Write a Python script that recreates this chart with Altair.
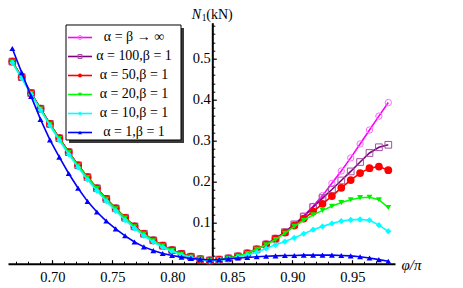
import altair as alt
import pandas as pd

# ---------------- data ----------------
phi = [0.66667, 0.67450, 0.68233, 0.69017, 0.69800, 0.70583, 0.71367, 0.72150,
       0.72933, 0.73717, 0.74500, 0.75283, 0.76067, 0.76850, 0.77633, 0.78417,
       0.79200, 0.79983, 0.80767, 0.81550, 0.82333, 0.83117, 0.83900, 0.84683,
       0.85467, 0.86250, 0.87033, 0.87817, 0.88600, 0.89383, 0.90167, 0.90950,
       0.91733, 0.92517, 0.93300, 0.94083, 0.94867, 0.95650, 0.96433, 0.97217,
       0.98000]

n_inf = [0.493, 0.455, 0.416, 0.378, 0.341, 0.306, 0.272, 0.240, 0.211, 0.184,
         0.158, 0.135, 0.112, 0.091, 0.073, 0.057, 0.044, 0.033, 0.024, 0.017,
         0.011, 0.008, 0.010, 0.013, 0.018, 0.025, 0.035, 0.047, 0.061, 0.077,
         0.096, 0.116, 0.140, 0.166, 0.196, 0.226, 0.258, 0.292, 0.326, 0.360,
         0.393]
n_100 = [0.493, 0.455, 0.416, 0.378, 0.341, 0.306, 0.272, 0.240, 0.211, 0.184,
         0.158, 0.135, 0.112, 0.091, 0.073, 0.057, 0.044, 0.033, 0.024, 0.017,
         0.011, 0.008, 0.010, 0.013, 0.018, 0.025, 0.035, 0.047, 0.061, 0.077,
         0.096, 0.115, 0.138, 0.160, 0.181, 0.203, 0.225, 0.248, 0.270, 0.284,
         0.290]
n_50 = [0.493, 0.455, 0.416, 0.378, 0.341, 0.306, 0.272, 0.240, 0.211, 0.184,
        0.158, 0.135, 0.112, 0.091, 0.073, 0.057, 0.044, 0.033, 0.024, 0.017,
        0.011, 0.008, 0.010, 0.013, 0.018, 0.025, 0.035, 0.047, 0.061, 0.076,
        0.093, 0.110, 0.127, 0.146, 0.165, 0.185, 0.204, 0.221, 0.233, 0.237,
        0.228]
n_20 = [0.492, 0.454, 0.415, 0.377, 0.340, 0.305, 0.271, 0.239, 0.210, 0.183,
        0.157, 0.134, 0.111, 0.090, 0.072, 0.056, 0.043, 0.032, 0.023, 0.016,
        0.011, 0.008, 0.010, 0.013, 0.018, 0.025, 0.035, 0.046, 0.059, 0.074,
        0.091, 0.106, 0.119, 0.130, 0.140, 0.149, 0.156, 0.161, 0.162, 0.156,
        0.137]
n_10 = [0.490, 0.452, 0.413, 0.375, 0.337, 0.301, 0.267, 0.235, 0.205, 0.178,
        0.152, 0.129, 0.106, 0.086, 0.068, 0.053, 0.040, 0.030, 0.021, 0.015,
        0.010, 0.007, 0.008, 0.011, 0.016, 0.021, 0.028, 0.037, 0.046, 0.054,
        0.063, 0.073, 0.083, 0.091, 0.098, 0.104, 0.107, 0.108, 0.106, 0.094,
        0.079]
n_1 = [0.525, 0.466, 0.408, 0.352, 0.302, 0.260, 0.220, 0.184, 0.152, 0.126,
       0.104, 0.085, 0.068, 0.053, 0.041, 0.032, 0.025, 0.020, 0.016, 0.013,
       0.011, 0.009, 0.010, 0.012, 0.014, 0.015, 0.017, 0.018, 0.019, 0.020,
       0.020, 0.021, 0.021, 0.021, 0.021, 0.020, 0.019, 0.017, 0.014, 0.010,
       0.006]

series_names = ["α=β→∞", "α=100,β=1", "α=50,β=1", "α=20,β=1", "α=10,β=1", "α=1,β=1"]
legend_text = ["α = β → ∞", "α = 100,β = 1", "α = 50,β = 1", "α = 20,β = 1",
               "α = 10,β = 1", "α = 1,β = 1"]
series_values = [n_inf, n_100, n_50, n_20, n_10, n_1]

x_major = [0.70, 0.75, 0.80, 0.85, 0.90, 0.95]
x_minor = [0.67, 0.68, 0.69, 0.71, 0.72, 0.73, 0.74, 0.76, 0.77, 0.78, 0.79,
           0.81, 0.82, 0.83, 0.84, 0.86, 0.87, 0.88, 0.89, 0.91, 0.92, 0.93,
           0.94, 0.96, 0.97, 0.98]
y_major = [0.1, 0.2, 0.3, 0.4, 0.5]
y_minor = [0.02, 0.04, 0.06, 0.08, 0.12, 0.14, 0.16, 0.18, 0.22, 0.24, 0.26,
           0.28, 0.32, 0.34, 0.36, 0.38, 0.42, 0.44, 0.46, 0.48, 0.52, 0.54,
           0.56, 0.58]

# ---------------- styles ----------------
colors = ["#FF00FF", "#800080", "#FF0000", "#00FF00", "#00FFFF", "#0000FF"]
marker_colors = ["#FF66FF", "#A050A0", "#FF0000", "#00EE00", "#00FFFF", "#0000FF"]
shapes = ["circle", "square", "circle", "triangle-down", "diamond", "triangle-up"]
filled = [False, False, True, True, True, True]
msize = [40, 45, 60, 35, 38, 35]

FONT = "Liberation Serif"
W, H = 387, 241
XDOM = [0.66308, 0.98558]
YDOM = [0.0, 0.5878]
X_AT_AXIS = 5 / 6
yaxis_px = W * (X_AT_AXIS - XDOM[0]) / (XDOM[1] - XDOM[0])

xscale = alt.Scale(domain=XDOM, nice=False, zero=False)
yscale = alt.Scale(domain=YDOM, nice=False, zero=False)

x_major_axis = alt.Axis(orient="top", offset=-H, values=x_major, format=".2f",
                        tickSize=4, tickWidth=1.2, tickColor="black",
                        domain=True, domainWidth=2, domainColor="black",
                        labelFont=FONT, labelFontSize=14.5, labelColor="black",
                        labelBaseline="top", labelPadding=-11, labelFlush=False,
                        labelOverlap=False, grid=False,
                        title="φ/π", titleFont=FONT, titleFontSize=15,
                        titleFontStyle="italic", titleFontWeight="normal",
                        titleColor="black", titleX=W + 6, titleY=1,
                        titleAlign="left", titleBaseline="middle", titleAngle=0)
x_minor_axis = alt.Axis(orient="top", offset=-H, values=x_minor, labels=False,
                        tickSize=2.5, tickWidth=1, tickColor="black",
                        domain=False, grid=False, title=None)
y_major_axis = alt.Axis(orient="right", offset=yaxis_px - W, values=y_major,
                        format=".1f", tickSize=4, tickWidth=1.2, tickColor="black",
                        domain=True, domainWidth=2, domainColor="black",
                        labelFont=FONT, labelFontSize=14.5, labelColor="black",
                        labelAlign="right", labelBaseline="middle",
                        labelPadding=-6, labelFlush=False, labelOverlap=False,
                        grid=False, title=None)
y_minor_axis = alt.Axis(orient="right", offset=yaxis_px - W, values=y_minor,
                        labels=False, tickSize=2.5, tickWidth=1, tickColor="black",
                        domain=False, grid=False, title=None)

layers = []
for i, name in enumerate(series_names):
    d = pd.DataFrame({"phi": phi, "N": series_values[i], "series": name})
    ax_x = x_major_axis if i == 0 else None
    ax_y = y_major_axis if i == 0 else None
    line = alt.Chart(d).mark_line(color=colors[i], strokeWidth=1.6).encode(
        x=alt.X("phi:Q", scale=xscale, axis=ax_x),
        y=alt.Y("N:Q", scale=yscale, axis=ax_y),
    )
    ax_x2 = x_minor_axis if i == 0 else None
    ax_y2 = y_minor_axis if i == 0 else None
    pt_kwargs = dict(shape=shapes[i], size=msize[i], opacity=1, strokeWidth=1,
                     filled=filled[i], color=marker_colors[i])
    pts = alt.Chart(d).mark_point(**pt_kwargs).encode(
        x=alt.X("phi:Q", scale=xscale, axis=ax_x2),
        y=alt.Y("N:Q", scale=yscale, axis=ax_y2),
    )
    layers += [line, pts]

# ---------------- legend (drawn by hand, with shadow) ----------------
one = pd.DataFrame({"a": [0]})
LX0, LX1, LY0, LY1 = 58, 173, 2.3, 117.3
shadow = alt.Chart(one).mark_rect(fill="#3a3a3a").encode(
    x=alt.value(LX0 + 3), x2=alt.value(LX1 + 3),
    y=alt.value(LY0 + 3), y2=alt.value(LY1 + 3))
box = alt.Chart(one).mark_rect(fill="white", stroke="black", strokeWidth=1).encode(
    x=alt.value(LX0), x2=alt.value(LX1), y=alt.value(LY0), y2=alt.value(LY1))
layers += [shadow, box]

for i, name in enumerate(series_names):
    ld = pd.DataFrame({"label": [legend_text[i]], "idx": [i]})
    base = alt.Chart(ld).transform_calculate(ly="datum.idx * 19 + 14.8")
    layers.append(base.mark_rule(color=colors[i], strokeWidth=1.6).encode(
        x=alt.value(60), x2=alt.value(84), y=alt.Y("ly:Q", scale=None)))
    layers.append(base.mark_point(shape=shapes[i], size=16, opacity=1, strokeWidth=1,
                                  filled=filled[i], color=marker_colors[i]).encode(
        x=alt.value(72), y=alt.Y("ly:Q", scale=None)))
    layers.append(base.mark_text(font=FONT, fontSize=14, align="center",
                                 baseline="middle", color="black").encode(
        x=alt.value(126), y=alt.Y("ly:Q", scale=None), text="label:N"))

# ---------------- y axis title N1(kN) ----------------
ty = pd.DataFrame({"t": ["N", "1", "(kN)"]})
layers.append(alt.Chart(ty).transform_filter("datum.t == 'N'").mark_text(
    font=FONT, fontSize=14, fontStyle="italic", align="left", baseline="middle",
    color="black").encode(x=alt.value(yaxis_px - 20.5), y=alt.value(-8), text="t:N"))
layers.append(alt.Chart(ty).transform_filter("datum.t == '1'").mark_text(
    font=FONT, fontSize=9.5, align="left", baseline="middle",
    color="black").encode(x=alt.value(yaxis_px - 10.5), y=alt.value(-5), text="t:N"))
layers.append(alt.Chart(ty).transform_filter("datum.t == '(kN)'").mark_text(
    font=FONT, fontSize=14, align="left", baseline="middle",
    color="black").encode(x=alt.value(yaxis_px - 6), y=alt.value(-8), text="t:N"))

chart = alt.layer(*layers).resolve_axis(x="independent", y="independent").properties(
    width=W, height=H,
    padding={"left": 0, "top": 14.7, "right": 60, "bottom": 24},
    autosize=alt.AutoSizeParams(type="none"),
    background="white",
).configure_view(stroke=None)

chart.save("out.html", embed_options={"renderer": "svg", "actions": False})
